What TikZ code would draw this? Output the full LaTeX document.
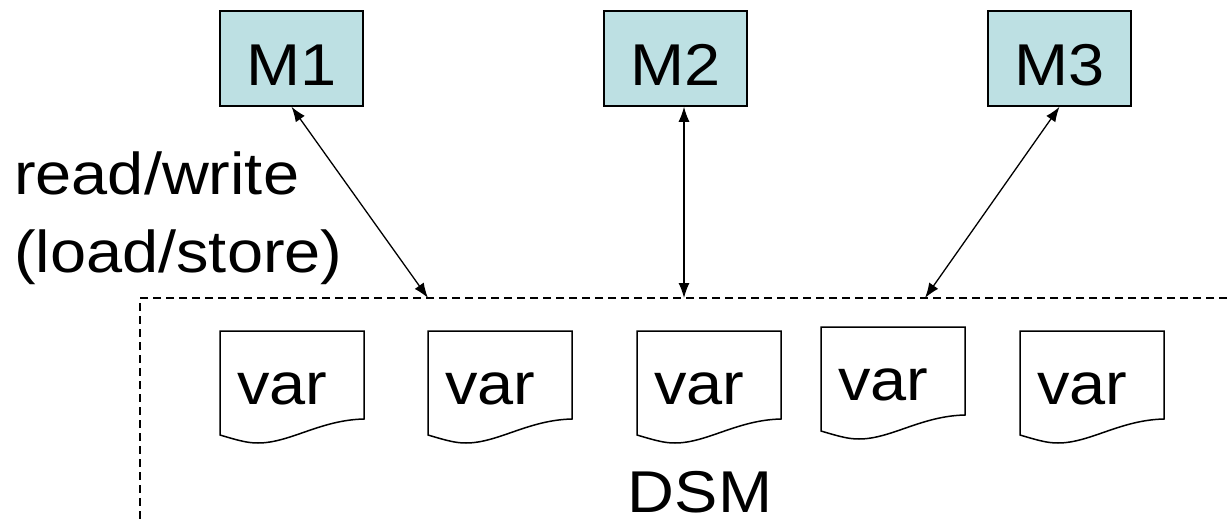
\documentclass[tikz,border=0pt]{standalone}
\usepackage{fontspec}
\setmainfont{Liberation Sans}[FakeStretch=1.1]
\usetikzlibrary{arrows.meta}
\definecolor{mcyan}{RGB}{189,224,227}

\begin{document}
\begin{tikzpicture}[x=1pt, y=-1pt,
  font=\fontsize{59}{78}\selectfont,
  mbox/.style={draw, fill=mcyan, line width=1.5pt, minimum width=143pt,
    minimum height=95pt, inner sep=0pt, text height=53pt, text depth=0pt},
  rw/.style={line width=1.3pt,
    {Latex[length=15pt,width=11pt]}-{Latex[length=15pt,width=11pt]}},
  page/.style={line width=1.5pt}]
\useasboundingbox (0,0) rectangle (1229,519);
% machines
\node[mbox] (m1) at (291.5,58.5) {M1};
\node[mbox] (m2) at (675.5,58.5) {M2};
\node[mbox] (m3) at (1059.5,58.5) {M3};
% shared memory, runs off to the right and below
\draw[line width=1.5pt, dash pattern=on 8pt off 5pt] (1240,298) -| (140,530);
\coordinate (d1) at (428,298);
\coordinate (d2) at (684,298);
\coordinate (d3) at (925,298);
\node[anchor=north west, align=left, inner sep=0pt] (rwlabel) at (14,152)
  {read/write\\(load/store)};
\draw[rw] (m1.south) -- (d1);
\draw[rw] ([xshift=8.5pt]m2.south) -- (d2);
\draw[rw] (m3.south) -- (d3);
% variables as pages
\foreach \n/\x/\y in {1/220/331, 2/428/331, 3/637/331, 4/821/327, 5/1020/331} {
  \begin{scope}[shift={(\x,\y)}]
    \draw[page] (0,0) -- (144,0) -- (144,88)
      .. controls (100,89) and (70,112) .. (38,112)
      .. controls (28,112) and (20,110) .. (0,104) -- cycle;
    \node[anchor=base west, inner sep=0pt] (v\n) at (17,73) {var};
  \end{scope}
}
\node[anchor=base, inner sep=0pt, text depth=0pt] (dsm) at (700,512) {DSM};
\end{tikzpicture}
\end{document}
